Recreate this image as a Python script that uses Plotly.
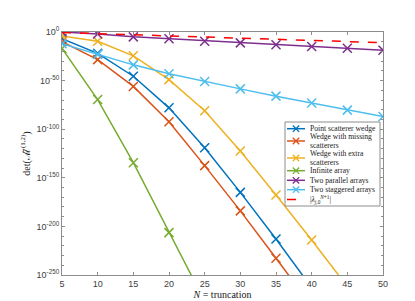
import plotly.graph_objects as go

N = [5, 10, 15, 20, 25, 30, 35, 40, 45, 50]

# log10 of det values (None = off chart)
point_wedge = [-7, -22, -45.5, -78, -119, -165, -213, -263, None, None]
missing_wedge = [-10, -28.4, -56, -92.4, -137.5, -184, -232.7, -282, None, None]
extra_wedge = [-4, -9.6, -24.5, -49, -81, -122.5, -167.7, -213.9, -262, None]
infinite_array = [-17, -69.5, -134.5, -206.4, -277, None, None, None, None, None]
parallel_arrays = [0, -2, -5, -7, -9.5, -11.2, -13.2, -15, -16.8, -18.7]
staggered_arrays = [-12, -23, -33.8, -43, -51, -58.5, -66, -73, -80.4, -87]
lambda_bound = [-0.5, -1.7, -2.9, -4.1, -5.3, -6.4, -7.6, -8.8, -9.9, -11]

series_names = ["Point scatterer wedge", "Wedge with missing|scatterers",
                "Wedge with extra|scatterers", "Infinite array",
                "Two parallel arrays", "Two staggered arrays"]
series_vals = [point_wedge, missing_wedge, extra_wedge, infinite_array,
               parallel_arrays, staggered_arrays]
series_colors = ["#0072BD", "#D95319", "#EDB120", "#77AC30", "#7E2F8E", "#4DBEEE"]
lambda_name = "|<i>λ</i><sub><i>j</i>,0</sub><sup><i>N</i>+1</sup>|"
lambda_color = "#FF0000"

ytick_vals = [0, -50, -100, -150, -200, -250]
ytick_text = ["10<sup>%d</sup>" % v for v in ytick_vals]
xtick_vals = [5, 10, 15, 20, 25, 30, 35, 40, 45, 50]

W, H = 415, 301
ML, MR, MT, MB = 54, 40, 24, 34
PW, PH = W - ML - MR, H - MT - MB

fig = go.Figure()
for name, vals, col in zip(series_names, series_vals, series_colors):
    fig.add_trace(go.Scatter(
        x=N, y=vals, name=name.replace("|", " "), mode="lines+markers",
        line=dict(color=col, width=1.5),
        marker=dict(symbol="x-thin", size=9, line=dict(color=col, width=1.5)),
        connectgaps=False, showlegend=False,
    ))
fig.add_trace(go.Scatter(
    x=N, y=lambda_bound, name="lambda", mode="lines", showlegend=False,
    line=dict(color=lambda_color, width=1.5, dash="dash"),
))

# ---- manual compact legend (MATLAB style) ----
def px(xp):
    return (xp - ML) / PW

def py(yp):
    return (H - MB - yp) / PH

serif = "Liberation Serif, Times New Roman, serif"
shapes = [dict(type="rect", xref="paper", yref="paper",
               x0=px(277), x1=px(372), y0=py(198), y1=py(114),
               fillcolor="white", line=dict(color="#8c8c8c", width=1), layer="above")]
annotations = []
row_y = [120.7, 133.0, 150.0, 162.7, 172.3, 181.7]
for name, col, yy in zip(series_names, series_colors, row_y):
    shapes.append(dict(type="line", xref="paper", yref="paper",
                       x0=px(279), x1=px(297), y0=py(yy), y1=py(yy),
                       line=dict(color=col, width=1.5), layer="above"))
    for d in (1, -1):
        shapes.append(dict(type="line", xref="paper", yref="paper",
                           x0=px(288 - 3.2), x1=px(288 + 3.2),
                           y0=py(yy - 3.2 * d), y1=py(yy + 3.2 * d),
                           line=dict(color=col, width=1.3), layer="above"))
    parts = name.split("|")
    if len(parts) == 1:
        offs = [0]
    else:
        offs = [-4.3, 4.3]
    for t, o in zip(parts, offs):
        annotations.append(dict(xref="paper", yref="paper", x=px(299.5), y=py(yy + o),
                                text=t, showarrow=False, xanchor="left", yanchor="middle",
                                font=dict(family=serif, size=7.6, color="#202020")))
yy = 191.5
shapes.append(dict(type="line", xref="paper", yref="paper",
                   x0=px(279), x1=px(297), y0=py(yy), y1=py(yy),
                   line=dict(color=lambda_color, width=1.5, dash="dash"), layer="above"))
annotations.append(dict(xref="paper", yref="paper", x=px(299.5), y=py(yy),
                        text=lambda_name, showarrow=False, xanchor="left", yanchor="middle",
                        font=dict(family=serif, size=7.6, color="#202020")))

axis_common = dict(
    showline=True, linecolor="#8c8c8c", linewidth=1, mirror="ticks",
    ticks="inside", ticklen=3, tickcolor="#8c8c8c",
    showgrid=False, zeroline=False,
    tickfont=dict(family="Liberation Sans, Arial", size=9, color="#404040"),
)

fig.update_layout(
    width=W, height=H,
    margin=dict(l=ML, r=MR, t=MT, b=MB),
    paper_bgcolor="white", plot_bgcolor="white",
    showlegend=False,
    shapes=shapes, annotations=annotations,
    xaxis=dict(
        range=[5, 50], tickvals=xtick_vals,
        title=dict(text="<i>N</i> = truncation", standoff=2,
                   font=dict(family=serif, size=10, color="#202020")),
        **axis_common,
    ),
    yaxis=dict(
        range=[-250, 0], tickvals=ytick_vals, ticktext=ytick_text,
        minor=dict(dtick=10, ticks="inside", ticklen=2, tickcolor="#8c8c8c"),
        title=dict(text="det(ℳ̃<sup>(1,2)</sup>)", standoff=4,
                   font=dict(family=serif, size=10, color="#202020")),
        **axis_common,
    ),
)

fig.write_html("out.html")
